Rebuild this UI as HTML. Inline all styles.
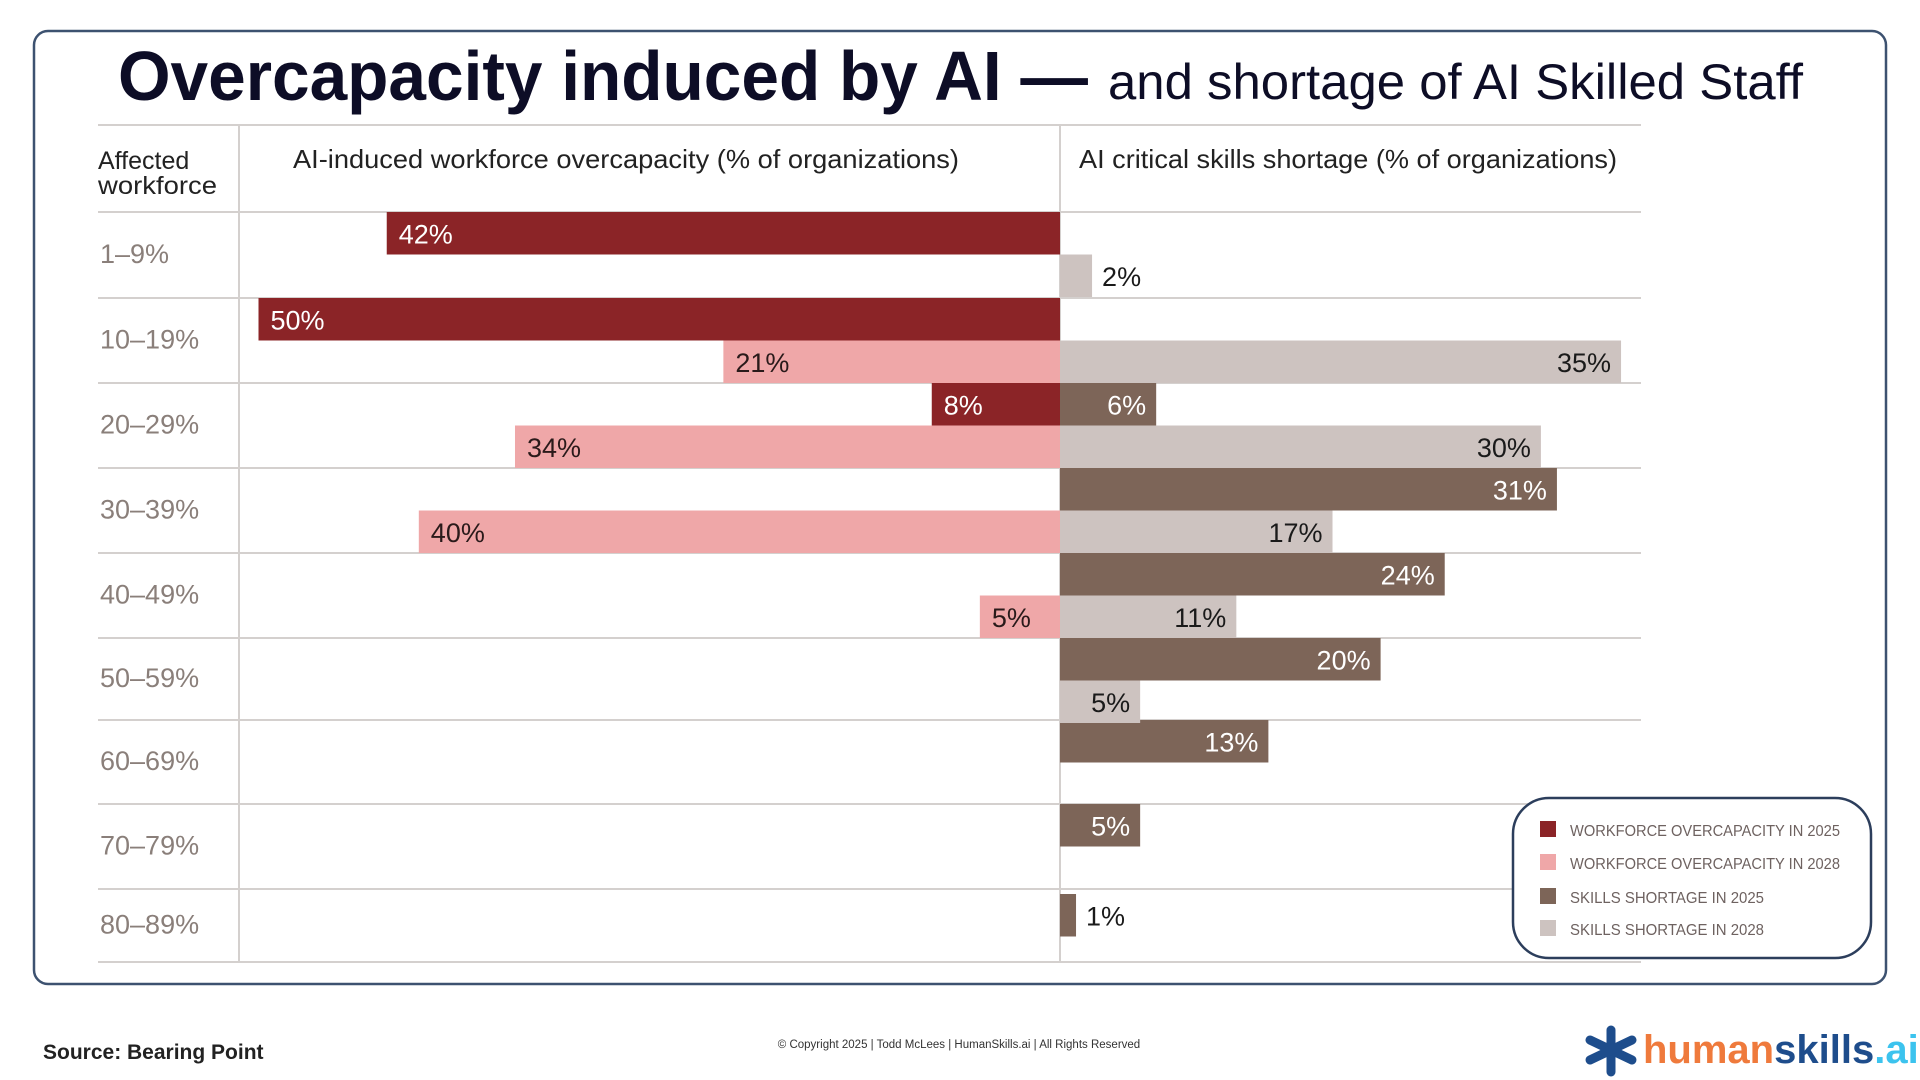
<!DOCTYPE html>
<html><head><meta charset="utf-8"><style>
html,body{margin:0;padding:0;background:#fff;}
svg{display:block;font-family:"Liberation Sans",sans-serif;}
</style></head><body>
<svg id="chart" width="1920" height="1080" viewBox="0 0 1920 1080">
<rect x="34" y="31" width="1852" height="953" rx="14" fill="#fff" stroke="#3d5270" stroke-width="2.5"/>
<text x="118" y="100" font-size="70" font-weight="bold" fill="#0d0d26" textLength="970" lengthAdjust="spacingAndGlyphs">Overcapacity induced by AI —</text>
<text x="1108" y="99" font-size="50" fill="#0d0d26" textLength="695" lengthAdjust="spacingAndGlyphs">and shortage of AI Skilled Staff</text>
<g id="grid"></g>
<text x="98" y="169" font-size="25" fill="#222">Affected</text>
<text x="98" y="194" font-size="25" fill="#222" textLength="119" lengthAdjust="spacingAndGlyphs">workforce</text>
<text x="293" y="168" font-size="26" fill="#222" textLength="666" lengthAdjust="spacingAndGlyphs">AI-induced workforce overcapacity (% of organizations)</text>
<text x="1079" y="168" font-size="26" fill="#222" textLength="538" lengthAdjust="spacingAndGlyphs">AI critical skills shortage (% of organizations)</text>
<g id="bars"></g>
<g id="labels"></g>
<rect x="1513" y="798" width="358" height="160" rx="36" fill="#fff" stroke="#2c3e5c" stroke-width="2.5"/>
<g id="legend"></g>
<text x="43" y="1059" font-size="21" font-weight="bold" fill="#222">Source: Bearing Point</text>
<text x="959" y="1048" font-size="11.5" fill="#333" text-anchor="middle">© Copyright 2025  |  Todd McLees  |  HumanSkills.ai | All Rights Reserved</text>
<g>
<g stroke="#1e4d8c" stroke-width="9" stroke-linecap="round">
<line x1="1611" y1="1030" x2="1611" y2="1072"/><line x1="1590" y1="1040" x2="1632" y2="1060"/><line x1="1590" y1="1060" x2="1632" y2="1040"/>
</g>
<text x="1643" y="1063" font-size="40" font-weight="bold"><tspan fill="#ef7a3c">human</tspan><tspan fill="#1e4d8c">skills</tspan><tspan fill="#3cc3ee">.ai</tspan></text>
</g>
</svg>
<script>
const categories=["1–9%","10–19%","20–29%","30–39%","40–49%","50–59%","60–69%","70–79%","80–89%"];
const overcap2025=[42,50,8,0,0,0,0,0,0];
const overcap2028=[0,21,34,40,5,0,0,0,0];
const shortage2025=[0,0,6,31,24,20,13,5,1];
const shortage2028=[2,35,30,17,11,5,0,0,0];
const legendLabels=["WORKFORCE OVERCAPACITY IN 2025","WORKFORCE OVERCAPACITY IN 2028","SKILLS SHORTAGE IN 2025","SKILLS SHORTAGE IN 2028"];

const NS="http://www.w3.org/2000/svg";
const CX=1060, PX=16.03, LEFT=98, RIGHT=1641;
const rowEdges=[212,298,383,468,553,638,720,804,889,962];
const BARH=42.5;
const colors=["#8b2427","#efa7a8","#7d6558","#cdc3c0"];
const textCol=["#fff","#2a1a1a","#fff","#1a1a1a"];
function x(v){return v*PX;}
function rowY(i){return rowEdges[i];}
function mk(tag,attrs,parent){const e=document.createElementNS(NS,tag);for(const k in attrs)e.setAttribute(k,attrs[k]);parent.appendChild(e);return e;}
const grid=document.getElementById('grid');
let l=mk('line',{x1:LEFT,x2:RIGHT,y1:125,y2:125,stroke:'#d4d0ce','stroke-width':2},grid);


for(let i=0;i<rowEdges.length;i++){
  const yy=rowEdges[i];
  const g=mk('line',{x1:LEFT,x2:RIGHT,y1:yy,y2:yy,stroke:'#d4d0ce','stroke-width':2},grid);
  
  
}
let v1=mk('line',{x1:239,x2:239,y1:125,y2:962,stroke:'#d4d0ce','stroke-width':2},grid);


let v2=mk('line',{x1:CX,x2:CX,y1:125,y2:962,stroke:'#d4d0ce','stroke-width':2},grid);


const bars=document.getElementById('bars'), labels=document.getElementById('labels');
categories.forEach((c,i)=>{
  const t=mk('text',{x:100,y:(rowEdges[i]+rowEdges[i+1])/2+8,'font-size':27,fill:'#8a7f7a'},labels);
  t.textContent=c;
  
  
});
const series=[overcap2025,overcap2028,shortage2025,shortage2028];
series.forEach((arr,s)=>{
  const left=s<2, half=s%2;
  arr.forEach((v,i)=>{
    if(!v)return;
    const h=BARH, y=rowY(i)+half*h+(i===8?5:0), w=x(v);
    const bx=left?CX-w:CX;
    const r=mk('rect',{x:bx,y:y,width:w,height:h,fill:colors[s]},bars);
    
    
    let tx,anchor,fill=textCol[s];
    if(left){tx=CX-w+12;anchor='start';}
    else if(w<50){tx=CX+w+10;anchor='start';fill='#1a1a1a';}
    else {tx=CX+w-10;anchor='end';}
    const t=mk('text',{x:tx,y:y+h/2+10,'font-size':27,fill:fill,'text-anchor':anchor},labels);
    t.textContent=v+'%';
    
    
  });
});
const lg=document.getElementById('legend');
const legendW=[270,270,194,194];
legendLabels.forEach((lab,i)=>{
  const yy=[836,869,903,935][i];
  const r=mk('rect',{x:1540,y:yy-15,width:16,height:16,fill:colors[i]},lg);
  
  
  const t=mk('text',{x:1570,y:yy,'font-size':16,fill:'#6e6260',textLength:legendW[i],lengthAdjust:'spacingAndGlyphs'},lg);
  t.textContent=lab;
  
  
});
</script>
</body></html>
